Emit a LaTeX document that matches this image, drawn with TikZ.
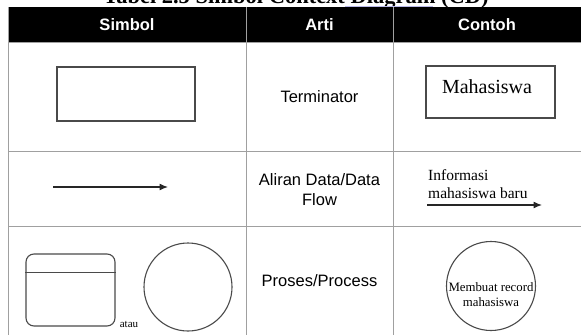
\documentclass[tikz,border=0pt]{standalone}
\usepackage{fontspec}
\setmainfont{Liberation Serif}
\setsansfont{Liberation Sans}
\usetikzlibrary{arrows.meta}

\definecolor{gridgray}{HTML}{A0A0A0}
\definecolor{shapegray}{HTML}{4A4A4A}
\definecolor{underlineblue}{HTML}{B8B8E8}

\tikzset{
  gridline/.style={draw=gridgray, line width=1pt},
  hdr/.style={text=white, font=\sffamily\bfseries\fontsize{16.5}{19}\selectfont, inner sep=0pt},
  body/.style={font=\sffamily\fontsize{16.5}{20}\selectfont, inner sep=0pt, align=center},
  sample/.style={font=\fontsize{15.5}{18}\selectfont, inner sep=0pt},
  symline/.style={draw=shapegray, line width=1.1pt},
  flow/.style={draw=black!85, line width=1.2pt, -{Latex[length=8.5pt,width=7pt]}},
}

\begin{document}
\begin{tikzpicture}[x=1pt, y=-1pt]
\useasboundingbox (0,0) rectangle (581,335);
\clip (0,0) rectangle (581,335);

% caption above the table
\node[anchor=base, font=\bfseries\fontsize{22.5}{22.5}\selectfont, inner sep=0pt] (caption) at (296,3.5) {Tabel 2.5 Simbol Context Diagram (CD)};
\draw[underlineblue, line width=0.8pt] (345,6) -- (433,6);

% header row
\fill[black] (8,7) rectangle (581,42);
\node[hdr] (h1) at (127,24.5) {Simbol};
\node[hdr] (h2) at (319.5,24.5) {Arti};
\node[hdr] (h3) at (487,24.5) {Contoh};

% table rules
\draw[gridline] (8,7) -- (8,335);
\draw[gridline] (246,7) -- (246,335);
\draw[gridline] (393,7) -- (393,335);
\draw[gridline] (8,42) -- (581,42);
\draw[gridline] (8,151) -- (581,151);
\draw[gridline] (8,226) -- (581,226);

% row 1: terminator
\node[symline, minimum width=138pt, minimum height=54pt, inner sep=0pt] (term) at (126,94) {};
\node[body] (t1) at (319.5,97) {Terminator};
\node[symline, minimum width=129pt, minimum height=52pt, inner sep=0pt] (mhs) at (490.5,92) {};
\node[font=\fontsize{20}{20}\selectfont, inner sep=0pt] (mhslabel) at (487,87) {Mahasiswa};

% row 2: data flow
\coordinate (fa) at (53,187);
\coordinate (fb) at (168,187);
\draw[flow] (fa) -- (fb);
\node[body] (t2) at (319.5,189.5) {Aliran Data/Data\\Flow};
\node[sample, anchor=west] (info1) at (428,175) {Informasi};
\node[sample, anchor=west] (info2) at (428,193) {mahasiswa baru};
\coordinate (ga) at (427,205);
\coordinate (gb) at (542,205);
\draw[flow] (ga) -- (gb);

% row 3: process
\node[symline, rounded corners=8pt, minimum width=89pt, minimum height=72pt, inner sep=0pt] (proc) at (70.5,290) {};
\draw[symline] (proc.west |- 0,272.7) -- (proc.east |- 0,272.7);
\node[font=\fontsize{11}{11}\selectfont, inner sep=0pt] (atau) at (129,324) {atau};
\node[symline, circle, minimum size=88pt, inner sep=0pt] (pcirc) at (188,287) {};
\node[body] (t3) at (319.5,281) {Proses/Process};
\node[symline, circle, minimum size=89pt, inner sep=0pt] (ecirc) at (491,286) {};
\node[font=\fontsize{12.8}{15}\selectfont, inner sep=0pt, align=center] (elabel) at (491,295) {Membuat record\\mahasiswa};
\end{tikzpicture}
\end{document}
